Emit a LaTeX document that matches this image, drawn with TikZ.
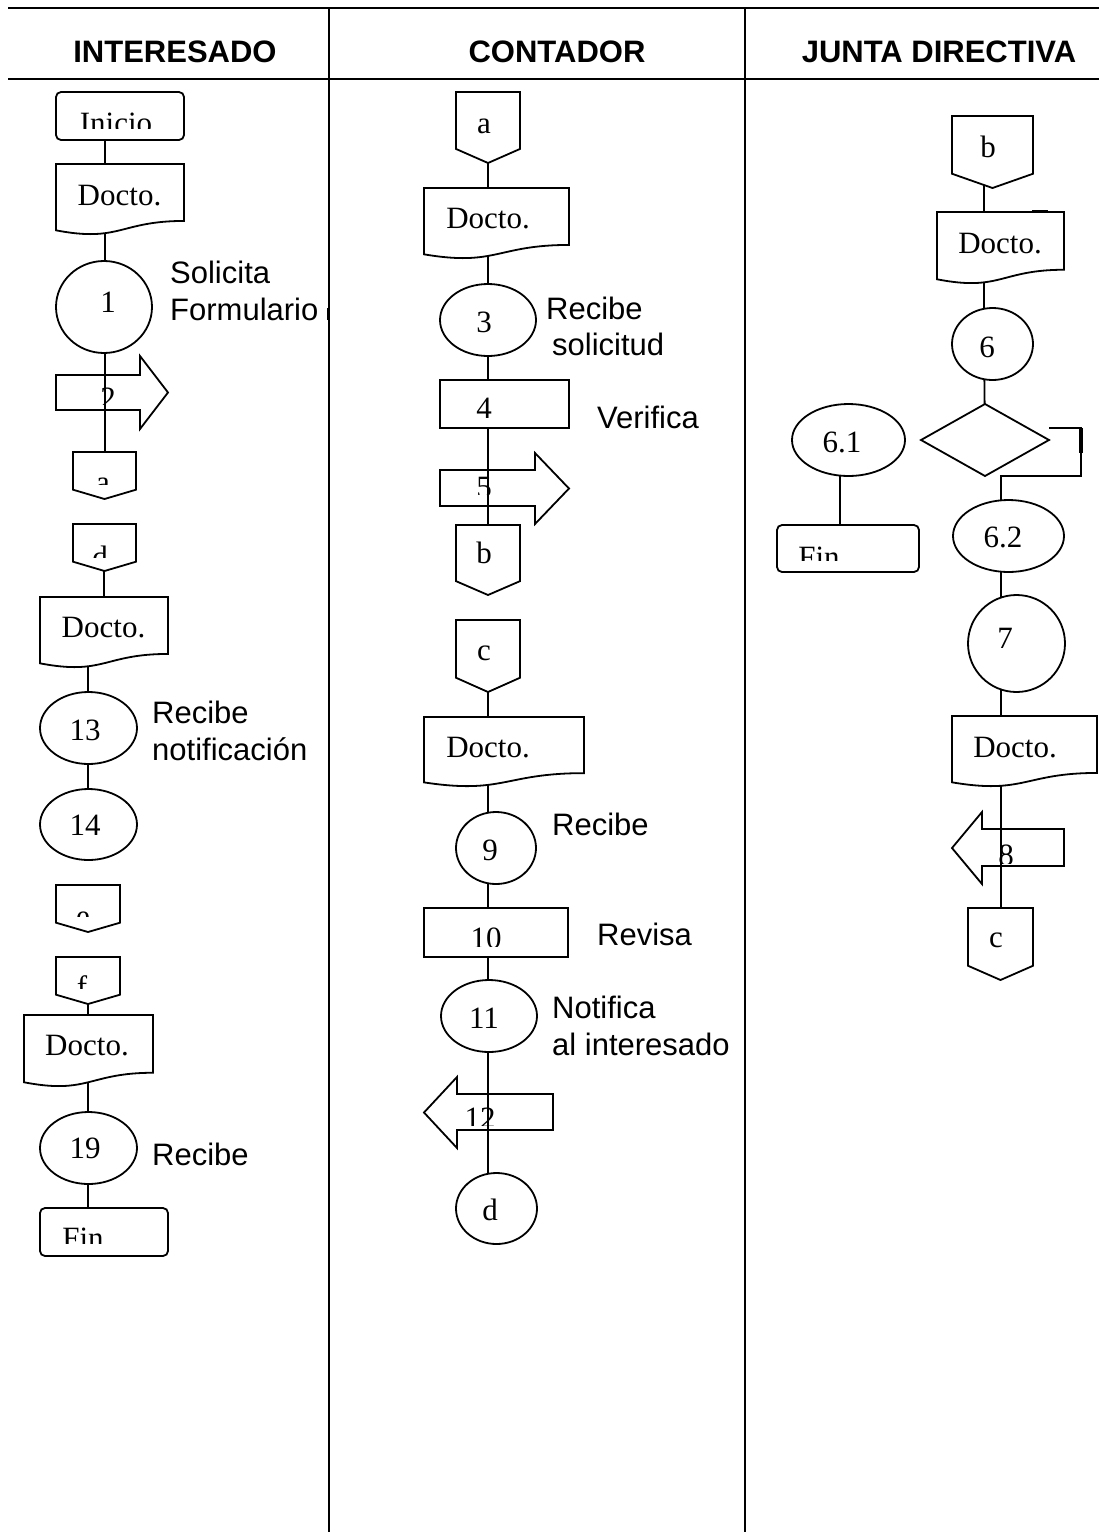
\documentclass[tikz,border=0pt]{standalone}
\usepackage{fontspec}
\setmainfont{Liberation Serif}
\setsansfont{Liberation Sans}
\usetikzlibrary{shapes.geometric,fit,calc,backgrounds}

\tikzset{
  ln/.style={line width=1.8pt},
  lane/.style={line width=1.8pt},
  heavy/.style={line width=3.6pt},
  shp/.style={draw, fill=white, line width=1.8pt, inner sep=0pt, outer sep=0pt},
  frame/.style={draw=none, inner sep=0pt, outer sep=0pt},
  num/.style={inner sep=0pt, anchor=base, font=\fontsize{31}{36}\selectfont},
  note/.style={inner sep=0pt, anchor=base west, font=\sffamily\fontsize{31}{36}\selectfont},
  head/.style={inner sep=0pt, anchor=base, font=\sffamily\bfseries\fontsize{31}{36}\selectfont},
}

% document symbol: name, left, top, right, height
\newcommand\docshape[5]{%
  \pgfmathsetmacro\shpya{#3+0.802*#5}%
  \pgfmathsetmacro\shpyb{#3+1.1075*#5}%
  \pgfmathsetmacro\shpyc{#3+0.934*#5}%
  \pgfmathsetmacro\shpyd{#3+0.97*#5}%
  \pgfmathsetmacro\shpxm{(#2+#4)/2}%
  \node[frame, fit={(#2,#3) (#4,\shpyd)}] (#1) {};
  \filldraw[shp] (#2,#3) -- (#4,#3) -- (#4,\shpya)
    .. controls (\shpxm,\shpya) and (\shpxm,\shpyb) .. (#2,\shpyc) -- cycle;}

% off-page connector: name, left, top, right, height
\newcommand\offpage[5]{%
  \pgfmathsetmacro\shpya{#3+0.802*#5}%
  \pgfmathsetmacro\shpyb{#3+#5}%
  \pgfmathsetmacro\shpxm{(#2+#4)/2}%
  \node[frame, fit={(#2,#3) (#4,\shpyb)}] (#1) {};
  \filldraw[shp] (#2,#3) -- (#4,#3) -- (#4,\shpya) -- (\shpxm,\shpyb) -- (#2,\shpya) -- cycle;}

% block arrow: name, body end x, neck x, tip x, body top, body bottom, head top, head bottom
\newcommand\blockarrow[8]{%
  \pgfmathsetmacro\shpym{(#7+#8)/2}%
  \node[frame, fit={(#2,#7) (#4,#8)}] (#1) {};
  \draw[ln] (#2,#5) -- (#3,#5) -- (#3,#7) -- (#4,\shpym) -- (#3,#8) -- (#3,#6) -- (#2,#6) -- cycle;}

% label cut off by its text box: name, box left, top, right, bottom, x, baseline, text
\newcommand\cliptext[8]{%
  \begin{scope}
    \clip (#2,#3) rectangle (#4,#5);
    \node[num] (#1) at (#6,#7) {#8};
  \end{scope}}

\begin{document}
\begin{tikzpicture}[x=1pt, y=-1pt]
\useasboundingbox (0,0) rectangle (1099,1537);

% swimlane grid
\coordinate (g1) at (8,8);    \coordinate (g2) at (1099,8);
\coordinate (g3) at (8,79);   \coordinate (g4) at (1099,79);
\coordinate (v1t) at (329,8); \coordinate (v1b) at (329,1532);
\coordinate (v2t) at (745,8); \coordinate (v2b) at (745,1532);
\draw[lane] (g1) -- (g2);
\draw[lane] (g3) -- (g4);
\draw[lane] (v1t) -- (v1b);
\draw[lane] (v2t) -- (v2b);
\draw[heavy] (328.5,308) -- (328.5,320);

\node[head] (h1) at (175,62) {INTERESADO};
\node[head] (h2) at (557,62) {CONTADOR};
\node[head] (h3) at (939,62) {JUNTA DIRECTIVA};

% ---------------- INTERESADO ----------------
\node[shp, rounded corners=5pt, fit={(56,92) (184,140)}] (ini) {};
\docshape{doc1}{56}{164}{184}{71}
\node[shp, ellipse, minimum width=96pt, minimum height=92pt] (c1) at (104,307) {};
\blockarrow{arr2}{56}{140}{168}{375}{410}{356}{429}
\offpage{offaL}{73}{452}{136}{47}

\offpage{offdL}{73}{524}{136}{47}
\docshape{doc2}{40}{597}{168}{71}
\node[shp, ellipse, minimum width=97pt, minimum height=72pt] (e13) at (88.5,728) {};
\node[shp, ellipse, minimum width=97pt, minimum height=71pt] (e14) at (88.5,824.5) {};

\offpage{offeL}{56}{885}{120}{47}
\offpage{offfL}{56}{957}{120}{47}
\docshape{doc3}{24}{1015}{153}{72}
\node[shp, ellipse, minimum width=97pt, minimum height=72pt] (e19) at (88.5,1148) {};
\node[shp, rounded corners=5pt, fit={(40,1208) (168,1256)}] (finL) {};

% ---------------- CONTADOR ----------------
\offpage{offaC}{456}{92}{520}{71}
\docshape{doc4}{424}{188}{569}{71}
\node[shp, ellipse, minimum width=96pt, minimum height=72pt] (e3) at (488,320) {};
\node[shp, fit={(440,380) (569,428)}] (r4) {};
\blockarrow{arr5}{440}{535}{569}{470}{506}{453}{524}
\offpage{offbC}{456}{525}{520}{70}

\offpage{offcC}{456}{620}{520}{72}
\docshape{doc5}{424}{717}{584}{70}
\node[shp, ellipse, minimum width=80pt, minimum height=72pt] (e9) at (496,848) {};
\node[shp, fit={(424,908) (568,957)}] (r10) {};
\node[shp, ellipse, minimum width=96pt, minimum height=72pt] (e11) at (489,1016) {};
\blockarrow{arr12}{553}{457}{424}{1094}{1130}{1077}{1148}
\node[shp, ellipse, minimum width=81pt, minimum height=71pt] (cd) at (496.5,1208.5) {};

% ---------------- JUNTA DIRECTIVA ----------------
\offpage{offbR}{952}{116}{1033}{72}
\docshape{doc6}{937}{212}{1064}{72}
\draw[heavy] (1032,211.5) -- (1048,211.5);
\node[shp, ellipse, minimum width=81pt, minimum height=72pt] (c6) at (992.5,344) {};
\node[frame, fit={(921,404) (1049,476)}] (dia) {};
\filldraw[shp] (dia.north) -- (dia.east) -- (dia.south) -- (dia.west) -- cycle;
\node[shp, ellipse, minimum width=113pt, minimum height=72pt] (e61) at (848.5,440) {};
\node[shp, rounded corners=5pt, fit={(777,525) (919,572)}] (finR) {};
\node[shp, ellipse, minimum width=111pt, minimum height=72pt] (e62) at (1008.5,536) {};
\node[shp, ellipse, minimum width=97pt, minimum height=97pt] (c7) at (1016.5,643.5) {};
\docshape{doc7}{952}{716}{1097}{71}
\blockarrow{arr8}{1064}{982}{952}{829}{866}{812}{884}
\offpage{offcR}{968}{908}{1033}{72}

% ---------------- flow lines ----------------
\coordinate (xA) at (105,0);
\coordinate (xB) at (104,0);
\coordinate (xC) at (88,0);
\coordinate (xD) at (488,0);
\coordinate (xE) at (984,0);
\coordinate (xF) at (840,0);
\coordinate (xG) at (1001,0);
\coordinate (k1) at (1081,428);
\coordinate (k2) at (1081,476);
\coordinate (k3) at (1081,453);

\begin{scope}[on background layer]
  \draw[ln] (ini.center -| xA) -- (doc1.center -| xA);
  \draw[ln] (doc1.center -| xA) -- (c1.center -| xA);
  \draw[ln] (c1.center -| xA) -- (offaL.center -| xA);
  \draw[ln] (offdL.center -| xB) -- (doc2.center -| xB);
  \draw[ln] (doc2.center -| xC) -- (e13.center -| xC);
  \draw[ln] (e13.center -| xC) -- (e14.center -| xC);
  \draw[ln] (offfL.center -| xC) -- (doc3.center -| xC);
  \draw[ln] (doc3.center -| xC) -- (e19.center -| xC);
  \draw[ln] (e19.center -| xC) -- (finL.center -| xC);

  \draw[ln] (offaC.center -| xD) -- (doc4.center -| xD);
  \draw[ln] (doc4.center -| xD) -- (e3.center -| xD);
  \draw[ln] (e3.center -| xD) -- (r4.center -| xD);
  \draw[ln] (r4.center -| xD) -- (offbC.center -| xD);
  \draw[ln] (offcC.center -| xD) -- (doc5.center -| xD);
  \draw[ln] (doc5.center -| xD) -- (e9.center -| xD);
  \draw[ln] (e9.center -| xD) -- (r10.center -| xD);
  \draw[ln] (r10.center -| xD) -- (e11.center -| xD);
  \draw[ln] (e11.center -| xD) -- (cd.center -| xD);

  \draw[ln] (offbR.center -| xE) -- (doc6.center -| xE);
  \draw[ln] (doc6.center -| xE) -- (c6.center -| xE);
  \draw[ln] (c6.center -| xE) -- (dia.center);
  \draw[ln] ($(dia.east)+(0,-12)$) -- (k1) -- (k2) -- (k2 -| xG) -- (e62.center -| xG);
  \draw[heavy] (k1) -- (k3);
  \draw[ln] (e61.center -| xF) -- (finR.center -| xF);
  \draw[ln] (e62.center -| xG) -- (c7.center -| xG);
  \draw[ln] (c7.center -| xG) -- (doc7.center -| xG);
  \draw[ln] (doc7.center -| xG) -- (offcR.center -| xG);
\end{scope}

% ---------------- labels ----------------
\cliptext{tIni}{56}{92}{184}{128}{116}{133}{Inicio}
\node[num] (tD1) at (119.5,205) {Docto.};
\node[num] (t1) at (108,312) {1};
\node[note] (tSol) at (170,283) {Solicita};
\node[note] (tFor) at (170,320) {Formulario};
\cliptext{t2}{56}{375}{140}{404}{108}{408}{2}
\cliptext{taL}{73}{452}{136}{484}{103}{492}{a}
\cliptext{tdL}{73}{524}{136}{557}{100}{567}{d}
\node[num] (tD2) at (103.5,637) {Docto.};
\node[num] (t13) at (85,740) {13};
\node[note] (tRec1) at (152,723) {Recibe};
\node[note] (tNot1) at (152,760) {notificación};
\node[num] (t14) at (85,835) {14};
\cliptext{teL}{56}{885}{120}{916}{83}{926}{e}
\cliptext{tfL}{56}{957}{120}{988}{82}{997}{f}
\node[num] (tD3) at (87,1055) {Docto.};
\node[num] (t19) at (85,1158) {19};
\node[note] (tRec2) at (152,1165) {Recibe};
\cliptext{tFinL}{40}{1208}{168}{1243}{83}{1248}{Fin}

\node[num] (taC) at (484,133) {a};
\node[num] (tD4) at (488,228) {Docto.};
\node[num] (t3) at (484,332) {3};
\node[note] (tRec3) at (546,319) {Recibe};
\node[note] (tSoli) at (552,355) {solicitud};
\node[num] (t4) at (484,418) {4};
\node[note] (tVer) at (597,428) {Verifica};
\cliptext{t5}{440}{470}{535}{494}{484}{497}{5}
\node[num] (tbC) at (484,563) {b};
\node[num] (tcC) at (484,660) {c};
\node[num] (tD5) at (488,757) {Docto.};
\node[num] (t9) at (490,860) {9};
\node[note] (tRec4) at (552,835) {Recibe};
\cliptext{t10}{424}{908}{568}{946}{486}{948}{10}
\node[note] (tRev) at (597,945) {Revisa};
\node[num] (t11) at (484,1028) {11};
\node[note] (tNot2) at (552,1018) {Notifica};
\node[note] (tAl) at (552,1055) {al interesado};
\cliptext{t12}{457}{1094}{553}{1125}{480}{1128}{12}
\node[num] (tdC) at (490,1220) {d};

\node[num] (tbR) at (988,157) {b};
\node[num] (tD6) at (1000,253) {Docto.};
\node[num] (t6) at (987,357) {6};
\node[num] (t61) at (842,452) {6.1};
\cliptext{tFinR}{777}{525}{919}{560}{819}{567}{Fin}
\node[num] (t62) at (1003,547) {6.2};
\node[num] (t7) at (1005,648) {7};
\node[num] (tD7) at (1015,757) {Docto.};
\cliptext{t8}{982}{829}{1064}{863}{1006}{865}{8}
\node[num] (tcR) at (996,947) {c};
\end{tikzpicture}
\end{document}
